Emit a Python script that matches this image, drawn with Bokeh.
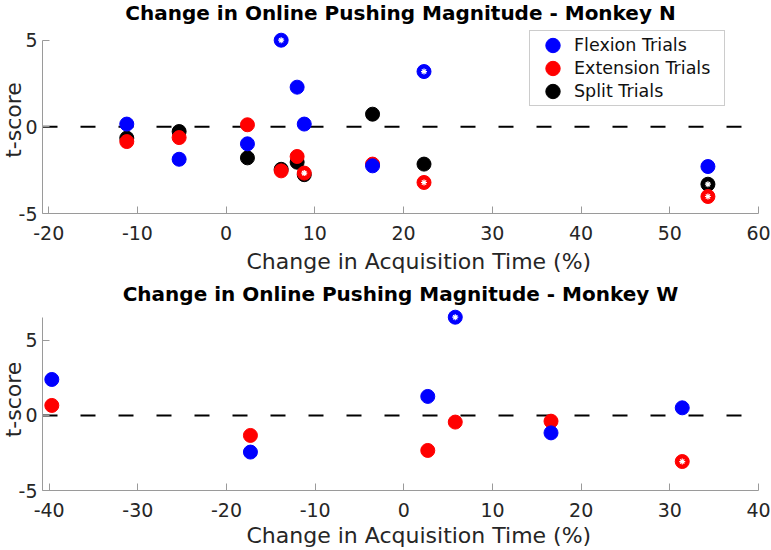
from bokeh.plotting import figure
from bokeh.models import (Range1d, Span, Legend, LegendItem, FixedTicker,
                          ColumnDataSource, Title, GlobalInlineStyleSheet)
from bokeh.layouts import column
from bokeh.embed import file_html
from bokeh.resources import INLINE

FONT = "DejaVu Sans"
BLUE, RED, BLACK = "#0000ff", "#ff0000", "#000000"

# ---------------- Monkey N ----------------
n_x = [-11.2, -5.3, 2.4, 6.2, 8.0, 8.8, 16.5, 22.3, 54.3]
n_flex = [0.16, -1.87, -0.98, 5.0, 2.29, 0.16, -2.25, 3.19, -2.29]
n_ext = [-0.85, -0.62, 0.12, -2.54, -1.71, -2.67, -2.15, -3.21, -4.02]
n_split = [-0.65, -0.27, -1.79, -2.45, -2.04, -2.76, 0.73, -2.15, -3.31]
n_flex_sig = [0, 0, 0, 1, 0, 0, 0, 1, 0]
n_ext_sig = [0, 0, 0, 0, 0, 1, 0, 1, 1]
n_split_sig = [0, 0, 0, 0, 0, 0, 0, 0, 1]
n_xticks = [-20, -10, 0, 10, 20, 30, 40, 50, 60]
n_yticks = [-5, 0, 5]
n_xlim = (-20.7, 60)
n_ylim = (-5, 5)

# ---------------- Monkey W ----------------
w_x = [-39.7, -17.3, 2.7, 5.8, 16.6, 31.4]
w_flex = [2.4, -2.44, 1.27, 6.55, -1.16, 0.51]
w_ext = [0.67, -1.33, -2.33, -0.44, -0.38, -3.07]
w_flex_sig = [0, 0, 0, 1, 0, 0]
w_ext_sig = [0, 0, 0, 0, 0, 1]
w_xticks = [-40, -30, -20, -10, 0, 10, 20, 30, 40]
w_yticks = [-5, 0, 5]
w_xlim = (-40.75, 40)
w_ylim = (-5, 6.55)

title_n = "Change in Online Pushing Magnitude - Monkey N"
title_w = "Change in Online Pushing Magnitude - Monkey W"
xlabel = "Change in Acquisition Time (%)"
ylabel = "t-score"
legend_labels = ["Flexion Trials", "Extension Trials", "Split Trials"]

AXIS_GREY = "#9a9a9a"
TEXT_GREY = "#262626"


def make_fig(height, xr, yr, pad_top, xticks, yticks, top, bottom, title,
             title_standoff, xlabel_standoff):
    # pad_top: room above the axis top so that markers on the limit are not cut
    p = figure(width=771, height=height,
               x_range=Range1d(*xr), y_range=Range1d(yr[0], yr[1] + pad_top),
               output_backend="svg", toolbar_location=None,
               min_border_left=42, min_border_right=13,
               min_border_top=top, min_border_bottom=bottom)
    p.title.text = title
    p.title.text_font = FONT
    p.title.text_font_size = "20px"
    p.title.text_font_style = "bold"
    p.title.text_color = "black"
    p.title.align = "center"
    p.title.vertical_align = "top"
    p.title.standoff = title_standoff
    p.outline_line_color = None
    p.grid.visible = False
    for ax in (p.xaxis[0], p.yaxis[0]):
        ax.axis_line_color = AXIS_GREY
        ax.major_tick_line_color = AXIS_GREY
        ax.major_tick_in = 7
        ax.major_tick_out = 0
        ax.minor_tick_line_color = None
        ax.major_label_text_font = FONT
        ax.major_label_text_font_size = "19px"
        ax.major_label_text_color = TEXT_GREY
    p.xaxis.ticker = FixedTicker(ticks=xticks)
    p.yaxis.ticker = FixedTicker(ticks=yticks)
    p.xaxis.major_label_overrides = {t: str(t) for t in xticks}
    p.yaxis.major_label_overrides = {t: str(t) for t in yticks}
    p.yaxis.bounds = yr
    p.xaxis.major_label_standoff = 12
    p.yaxis.major_label_standoff = 5
    p.add_layout(Title(text=ylabel, align="center", vertical_align="top",
                       standoff=-24, text_font=FONT, text_font_size="22px",
                       text_font_style="normal", text_color=TEXT_GREY), "left")
    p.add_layout(Title(text=xlabel, align="left", offset=204, vertical_align="bottom",
                       standoff=xlabel_standoff, text_font=FONT, text_font_size="22px",
                       text_font_style="normal", text_color=TEXT_GREY), "below")
    p.add_layout(Span(location=0, dimension="width", line_color="black",
                      line_width=2, line_dash="15 23", level="underlay"))
    return p


def add_series(p, xs, ys, sig, color):
    r = p.ellipse(x="x", y="y", source=ColumnDataSource(dict(x=xs, y=ys)),
                  width=14, height=14, width_units="screen", height_units="screen",
                  fill_color=color, line_color=color)
    sx = [a for a, s in zip(xs, sig) if s]
    sy = [b for b, s in zip(ys, sig) if s]
    p.scatter(x="x", y="y", source=ColumnDataSource(dict(x=sx, y=sy)),
              size=6, marker="asterisk", line_color="white", line_width=1.2)
    return r


p1 = make_fig(280, n_xlim, n_ylim, 0.79, n_xticks, n_yticks, 26, 67, title_n, 0, 9)
r_split = add_series(p1, n_x, n_split, n_split_sig, BLACK)
r_ext = add_series(p1, n_x, n_ext, n_ext_sig, RED)
r_flex = add_series(p1, n_x, n_flex, n_flex_sig, BLUE)

legend = Legend(items=[LegendItem(label=legend_labels[0], renderers=[r_flex]),
                       LegendItem(label=legend_labels[1], renderers=[r_ext]),
                       LegendItem(label=legend_labels[2], renderers=[r_split])],
                location=(487, 107), margin=0, padding=4, spacing=3,
                glyph_width=37, glyph_height=18, label_standoff=3, label_width=146,
                label_text_font=FONT, label_text_font_size="17.5px", label_text_color="#111111",
                border_line_color=AXIS_GREY, border_line_width=1,
                background_fill_color="white", background_fill_alpha=1.0)
p1.add_layout(legend, "center")

p2 = make_fig(270, w_xlim, w_ylim, 0.58, w_xticks, w_yticks, 28, 60, title_w, 2, 2)
add_series(p2, w_x, w_ext, w_ext_sig, RED)
add_series(p2, w_x, w_flex, w_flex_sig, BLUE)

layout = column(p1, p2, spacing=0)
layout.stylesheets = [GlobalInlineStyleSheet(
    css="html, body { margin: 0 !important; padding: 0; overflow: hidden; }")]

open("out.html", "w").write(file_html(layout, INLINE))
